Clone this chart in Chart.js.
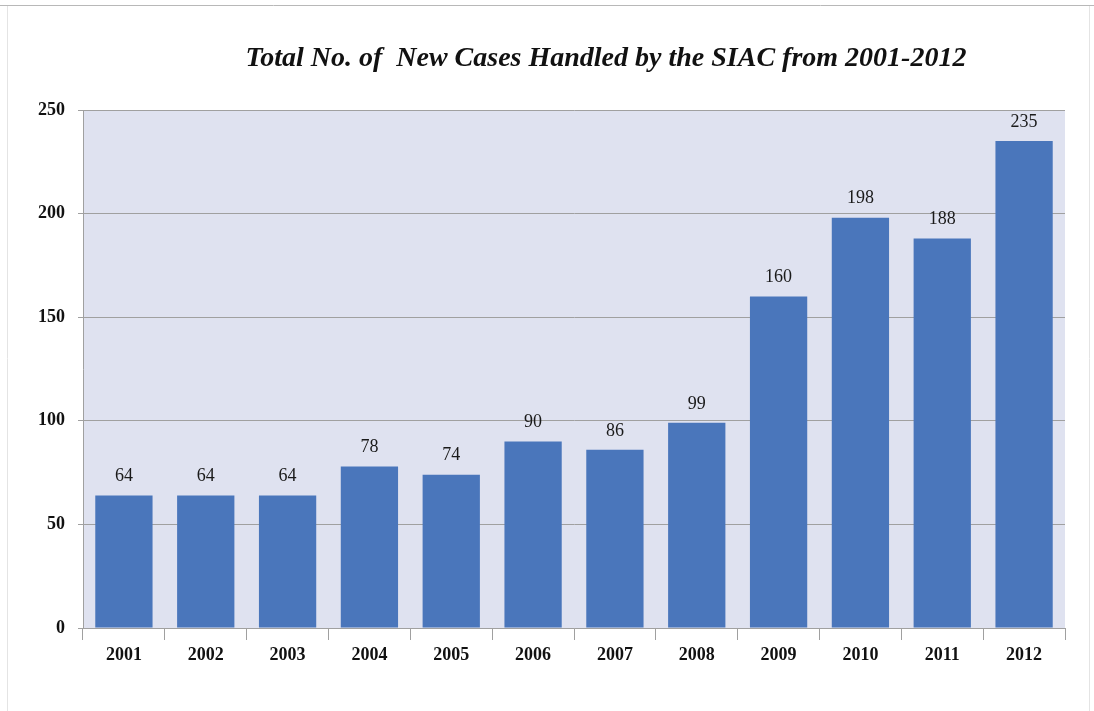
<!DOCTYPE html>
<html>
<head>
<meta charset="utf-8">
<script src="https://cdn.jsdelivr.net/npm/chart.js@4.4.1/dist/chart.umd.min.js"></script>
<style>
  html, body { margin: 0; padding: 0; background: #fff; }
  #wrap { width: 1094px; height: 711px; position: relative; }
</style>
</head>
<body>
<div id="wrap"><canvas id="chart" width="1094" height="711"></canvas></div>
<script>
// =====================
// DATA
// =====================
const years = ["2001", "2002", "2003", "2004", "2005", "2006", "2007", "2008", "2009", "2010", "2011", "2012"];
const newCases = [64, 64, 64, 78, 74, 90, 86, 99, 160, 198, 188, 235];
const yTicks = [0, 50, 100, 150, 200, 250];
const chartTitle = "Total No. of  New Cases Handled by the SIAC from 2001-2012";

const SERIF = "'Liberation Serif', 'DejaVu Serif', serif";

// =====================
// PLUGINS
// =====================
// page frame, plot background and the (off-centre) title
const frame = {
  id: "frame",
  beforeDraw(chart) {
    const { ctx, chartArea: a } = chart;
    ctx.save();
    ctx.fillStyle = "#dfe2f0";
    ctx.fillRect(a.left, a.top, a.right - a.left, a.bottom - a.top);
    ctx.strokeStyle = "#b8b8b8";
    ctx.lineWidth = 1;
    ctx.beginPath();
    ctx.moveTo(0, 5.5);
    ctx.lineTo(1094, 5.5);
    ctx.stroke();
    ctx.strokeStyle = "#e4e4e4";
    ctx.beginPath();
    ctx.moveTo(7.5, 6);
    ctx.lineTo(7.5, 711);
    ctx.moveTo(1089.5, 6);
    ctx.lineTo(1089.5, 711);
    ctx.stroke();

    ctx.fillStyle = "#111";
    ctx.font = "italic bold 28px " + SERIF;
    ctx.textAlign = "center";
    ctx.textBaseline = "alphabetic";
    ctx.fillText(chartTitle, 606, 66);
    ctx.restore();
  }
};

// value labels above the bars
const valueLabels = {
  id: "valueLabels",
  afterDatasetsDraw(chart) {
    const { ctx } = chart;
    const meta = chart.getDatasetMeta(0);
    ctx.save();
    ctx.font = "18px " + SERIF;
    ctx.fillStyle = "#1a1a1a";
    ctx.textAlign = "center";
    ctx.textBaseline = "middle";
    meta.data.forEach((bar, i) => {
      ctx.fillText(newCases[i], bar.x, bar.y - 19);
    });
    ctx.restore();
  }
};

// =====================
// CHART
// =====================
new Chart(document.getElementById("chart"), {
  type: "bar",
  data: {
    labels: years,
    datasets: [
      {
        label: "New Cases",
        data: newCases,
        backgroundColor: "#4a76bb",
        borderWidth: 0,
        categoryPercentage: 1.0,
        barPercentage: 0.7
      }
    ]
  },
  options: {
    responsive: false,
    animation: false,
    layout: { padding: { left: 0, right: 29, top: 110, bottom: 0 } },
    plugins: {
      legend: { display: false },
      tooltip: { enabled: false },
      title: { display: false }
    },
    scales: {
      x: {
        afterFit(scale) { scale.height = 83; },
        grid: {
          drawOnChartArea: false,
          drawTicks: true,
          tickLength: 12,
          color: "#a0a0a0"
        },
        border: { color: "#a0a0a0" },
        ticks: {
          color: "#111",
          padding: 5,
          font: { family: SERIF, size: 18, weight: "bold" }
        }
      },
      y: {
        min: 0,
        max: 250,
        afterFit(scale) { scale.width = 83; },
        afterBuildTicks(scale) { scale.ticks = yTicks.map(v => ({ value: v })); },
        grid: { color: "#a0a0a0", tickLength: 5 },
        border: { color: "#a0a0a0" },
        ticks: {
          color: "#111",
          padding: 13,
          font: { family: SERIF, size: 18, weight: "bold" }
        }
      }
    }
  },
  plugins: [frame, valueLabels]
});
</script>
</body>
</html>
